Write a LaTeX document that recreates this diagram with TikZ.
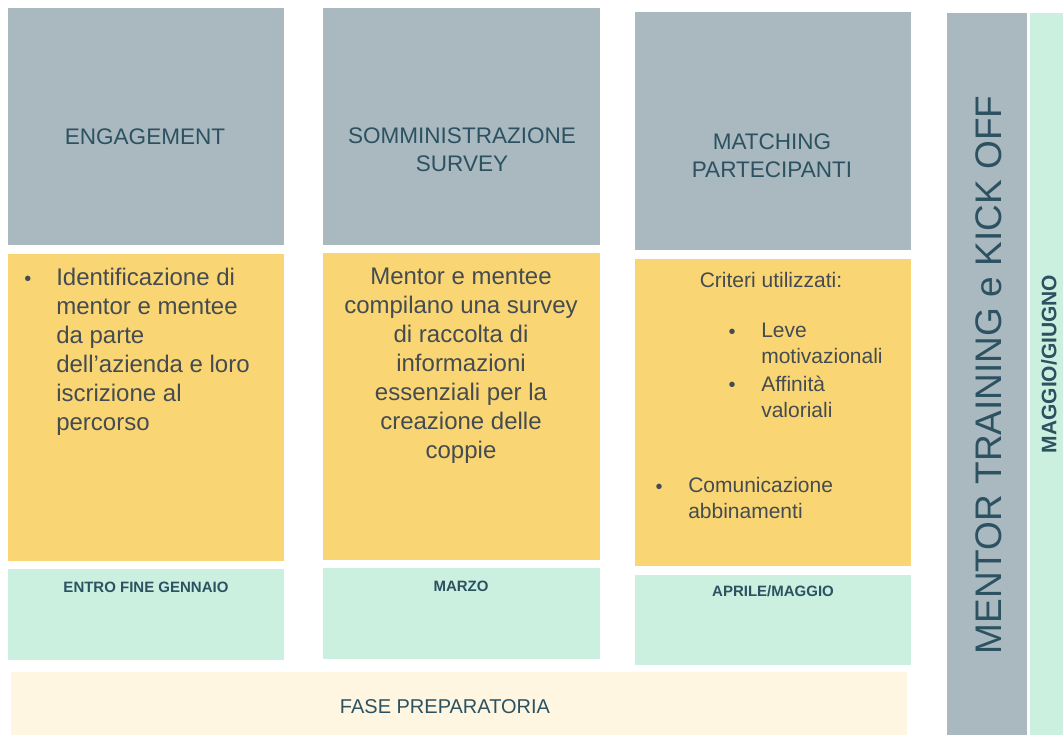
\documentclass[tikz,border=0pt]{standalone}
\usepackage{fontspec}
\setmainfont{Liberation Sans}
\definecolor{graybox}{HTML}{AAB8BF}
\definecolor{yellowbox}{HTML}{F9D673}
\definecolor{greenbox}{HTML}{CCF0DF}
\definecolor{creambox}{HTML}{FEF6E0}
\definecolor{teal}{HTML}{2C5262}
\definecolor{bodytext}{HTML}{444B51}
\begin{document}
\begin{tikzpicture}[x=0.75pt,y=-0.75pt,
  gbox/.style={fill=graybox},
  ybox/.style={fill=yellowbox},
  mbox/.style={fill=greenbox},
  cbox/.style={fill=creambox},
  title/.style={inner sep=0pt,text=teal,align=center,font=\fontsize{16.9}{21}\selectfont},
  body/.style={inner sep=0pt,text=bodytext,font=\fontsize{18}{21.75}\selectfont},
  small/.style={inner sep=0pt,text=bodytext,font=\fontsize{15.75}{19.5}\selectfont},
  bul/.style={inner sep=0pt,anchor=base,text=bodytext,font=\fontsize{15}{15}\selectfont},
  when/.style={inner sep=0pt,text=teal,font=\bfseries\fontsize{11.25}{13}\selectfont}]
\useasboundingbox (0,0) rectangle (1063,735);
\fill[white] (0,0) rectangle (1063,735);
% column 1
\fill[gbox] (8,8) rectangle (284,245);
\fill[ybox] (8,254) rectangle (284,561);
\fill[mbox] (8,569) rectangle (284,660);
% column 2
\fill[gbox] (323,8) rectangle (600,245);
\fill[ybox] (323,253) rectangle (600,560);
\fill[mbox] (323,568) rectangle (600,659);
% column 3
\fill[gbox] (635,12) rectangle (911,250);
\fill[ybox] (635,259) rectangle (911,566);
\fill[mbox] (635,575) rectangle (911,665);
% bottom band
\fill[cbox] (11,672) rectangle (907,735);
% right columns
\fill[gbox] (947,13) rectangle (1027,735);
\fill[mbox] (1030,13) rectangle (1063,735);

% titles
\node[title] (t1) at (145,137) {ENGAGEMENT};
\node[title] (t2) at (462,150) {SOMMINISTRAZIONE\\SURVEY};
\node[title] (t3) at (772,156) {MATCHING\\PARTECIPANTI};

% column 1 body
\node[bul] (b1) at (28,285) {•};
\node[body,anchor=north west,align=left] (x1) at (56,267.5)
  {Identificazione di\\mentor e mentee\\da parte\\dell’azienda e loro\\iscrizione al\\percorso};
% column 2 body
\node[body,anchor=north,align=center] (x2) at (461,267.5)
  {Mentor e mentee\\compilano una survey\\di raccolta di\\informazioni\\essenziali per la\\creazione delle\\coppie};
% column 3 body
\node[small] (c0) at (771,280) {Criteri utilizzati:};
\node[bul] (b2) at (732,338) {•};
\node[small,anchor=north west,align=left] (c1) at (761,322.5) {Leve\\motivazionali};
\node[bul] (b3) at (732,391) {•};
\node[small,anchor=north west,align=left] (c2) at (761,375.5) {Affinità\\valoriali};
\node[bul] (b4) at (659,493) {•};
\node[small,anchor=north west,align=left] (c3) at (688,477.5) {Comunicazione\\abbinamenti};

% periods
\node[when] (w1) at (146,587) {ENTRO FINE GENNAIO};
\node[when] (w2) at (461,586) {MARZO};
\node[when] (w3) at (773,591) {APRILE/MAGGIO};

% bottom
\node[inner sep=0pt,text=teal,font=\fontsize{15}{18}\selectfont] (fp) at (445,707) {FASE PREPARATORIA};

% vertical
\node[inner sep=0pt,text=teal,rotate=90,font=\fontsize{27.75}{32}\selectfont] (mt) at (989,375) {MENTOR TRAINING e KICK OFF};
\node[inner sep=0pt,text=teal,rotate=90,font=\bfseries\fontsize{15.75}{18}\selectfont] (mg) at (1049,364) {MAGGIO/GIUGNO};
\end{tikzpicture}
\end{document}
